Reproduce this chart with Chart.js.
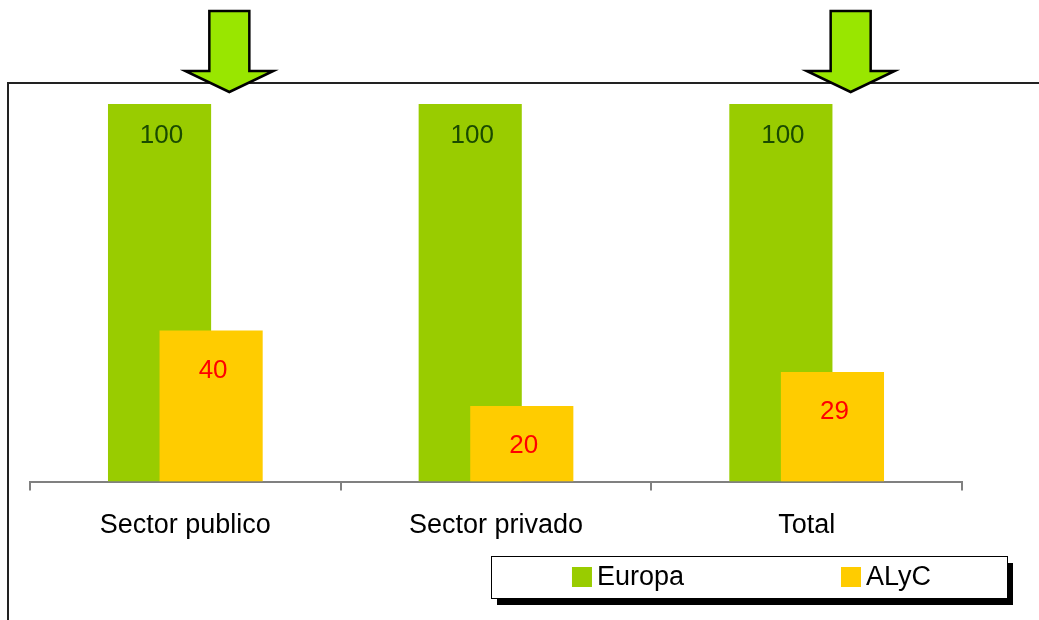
<!DOCTYPE html>
<html>
<head>
<meta charset="utf-8">
<script src="https://cdn.jsdelivr.net/npm/chart.js@4"></script>
<style>
  body { margin: 0; background: #fff; }
  #chart { display: block; }
</style>
</head>
<body>
<canvas id="chart" width="1039" height="620"></canvas>
<script>
// values
const categories = ['Sector publico', 'Sector privado', 'Total'];
const europa = [100, 100, 100];
const alyc = [40, 20, 29];
const seriesNames = ['Europa', 'ALyC'];
// categories marked with an arrow above the plot
const arrowCategories = ['Sector publico', 'Total'];

const FONT = '"Liberation Sans", Arial, sans-serif';
const GREEN = '#99cc00';
const YELLOW = '#ffcc00';

// outer frame (left + top edges) behind everything
const framePlugin = {
    id: 'frame',
    beforeDraw(chart) {
        const ctx = chart.ctx;
        ctx.save();
        ctx.fillStyle = '#fff';
        ctx.fillRect(0, 0, chart.width, chart.height);
        ctx.strokeStyle = '#222';
        ctx.lineWidth = 2;
        ctx.beginPath();
        ctx.moveTo(8, chart.height);
        ctx.lineTo(8, 83);
        ctx.lineTo(chart.width, 83);
        ctx.stroke();
        ctx.restore();
    }
};

// draw datasets in index order so the second series overlaps the first
const overlapOrder = {
    id: 'overlapOrder',
    beforeDatasetsDraw(chart) {
        const area = chart.chartArea;
        const ctx = chart.ctx;
        ctx.save();
        ctx.beginPath();
        ctx.rect(area.left, area.top - 2, area.right - area.left, area.bottom - area.top + 2);
        ctx.clip();
        chart.data.datasets.forEach((ds, i) => {
            chart.getDatasetMeta(i).controller.draw();
        });
        ctx.restore();
        return false;
    }
};

// value labels inside the top of each bar
const valueLabels = {
    id: 'valueLabels',
    afterDraw(chart) {
        const ctx = chart.ctx;
        ctx.save();
        ctx.font = '26px ' + FONT;
        ctx.textAlign = 'center';
        ctx.textBaseline = 'middle';
        chart.data.datasets.forEach((ds, i) => {
            const meta = chart.getDatasetMeta(i);
            meta.data.forEach((bar, j) => {
                ctx.fillStyle = ds.labelColor;
                ctx.fillText(ds.data[j], bar.x + 2, bar.y + ds.labelOffset);
            });
        });
        ctx.restore();
    }
};

// green arrows pointing down at the highlighted categories
const arrows = {
    id: 'arrows',
    afterDraw(chart) {
        const ctx = chart.ctx;
        const xs = chart.scales.x;
        ctx.save();
        ctx.fillStyle = '#99e600';
        ctx.strokeStyle = '#000';
        ctx.lineWidth = 2.5;
        ctx.lineJoin = 'miter';
        arrowCategories.forEach(name => {
            const cx = xs.getPixelForValue(categories.indexOf(name)) + 44;
            ctx.beginPath();
            ctx.moveTo(cx - 20, 11);
            ctx.lineTo(cx + 20, 11);
            ctx.lineTo(cx + 20, 71);
            ctx.lineTo(cx + 44, 71);
            ctx.lineTo(cx, 92);
            ctx.lineTo(cx - 44, 71);
            ctx.lineTo(cx - 20, 71);
            ctx.closePath();
            ctx.fill();
            ctx.stroke();
        });
        ctx.restore();
    }
};

// boxed legend with a drop shadow
const boxLegend = {
    id: 'boxLegend',
    afterDraw(chart) {
        const ctx = chart.ctx;
        const left = 491, top = 556, w = 516, h = 42;
        ctx.save();
        ctx.fillStyle = '#000';
        ctx.fillRect(left + 6, top + 7, w, h);
        ctx.fillStyle = '#fff';
        ctx.fillRect(left, top, w, h);
        ctx.strokeStyle = '#000';
        ctx.lineWidth = 1;
        ctx.strokeRect(left + 0.5, top + 0.5, w, h);
        ctx.font = '27px ' + FONT;
        ctx.textBaseline = 'middle';
        ctx.textAlign = 'left';
        const half = w / 2;
        chart.data.datasets.forEach((ds, i) => {
            const tw = ctx.measureText(ds.label).width;
            const itemW = 20 + 5 + tw;
            const x0 = left + half * i + (half - itemW) / 2 + 8;
            const cy = top + h / 2;
            ctx.fillStyle = ds.backgroundColor;
            ctx.fillRect(x0, cy - 10, 20, 20);
            ctx.fillStyle = '#000';
            ctx.fillText(ds.label, x0 + 25, cy + 1);
        });
        ctx.restore();
    }
};

const ctx = document.getElementById('chart').getContext('2d');
new Chart(ctx, {
    type: 'bar',
    data: {
        labels: categories,
        datasets: [
            {
                label: seriesNames[0],
                data: europa,
                backgroundColor: GREEN,
                labelColor: '#1a4a00',
                labelOffset: 32,
                categoryPercentage: 0.332,
                barPercentage: 2.0
            },
            {
                label: seriesNames[1],
                data: alyc,
                backgroundColor: YELLOW,
                labelColor: '#ff0000',
                labelOffset: 40,
                categoryPercentage: 0.332,
                barPercentage: 2.0
            }
        ]
    },
    options: {
        responsive: false,
        animation: false,
        layout: { padding: { left: 30, right: 77, top: 104, bottom: 59 } },
        plugins: {
            legend: { display: false },
            tooltip: { enabled: false }
        },
        scales: {
            x: {
                grid: {
                    display: true,
                    drawOnChartArea: false,
                    drawTicks: true,
                    tickLength: 9,
                    color: '#808080',
                    lineWidth: 2
                },
                border: { display: true, color: '#808080', width: 2 },
                ticks: {
                    color: '#000',
                    padding: 19,
                    font: { family: FONT, size: 27 }
                }
            },
            y: {
                display: false,
                min: 0,
                max: 100
            }
        }
    },
    plugins: [framePlugin, overlapOrder, valueLabels, arrows, boxLegend]
});
</script>
</body>
</html>
